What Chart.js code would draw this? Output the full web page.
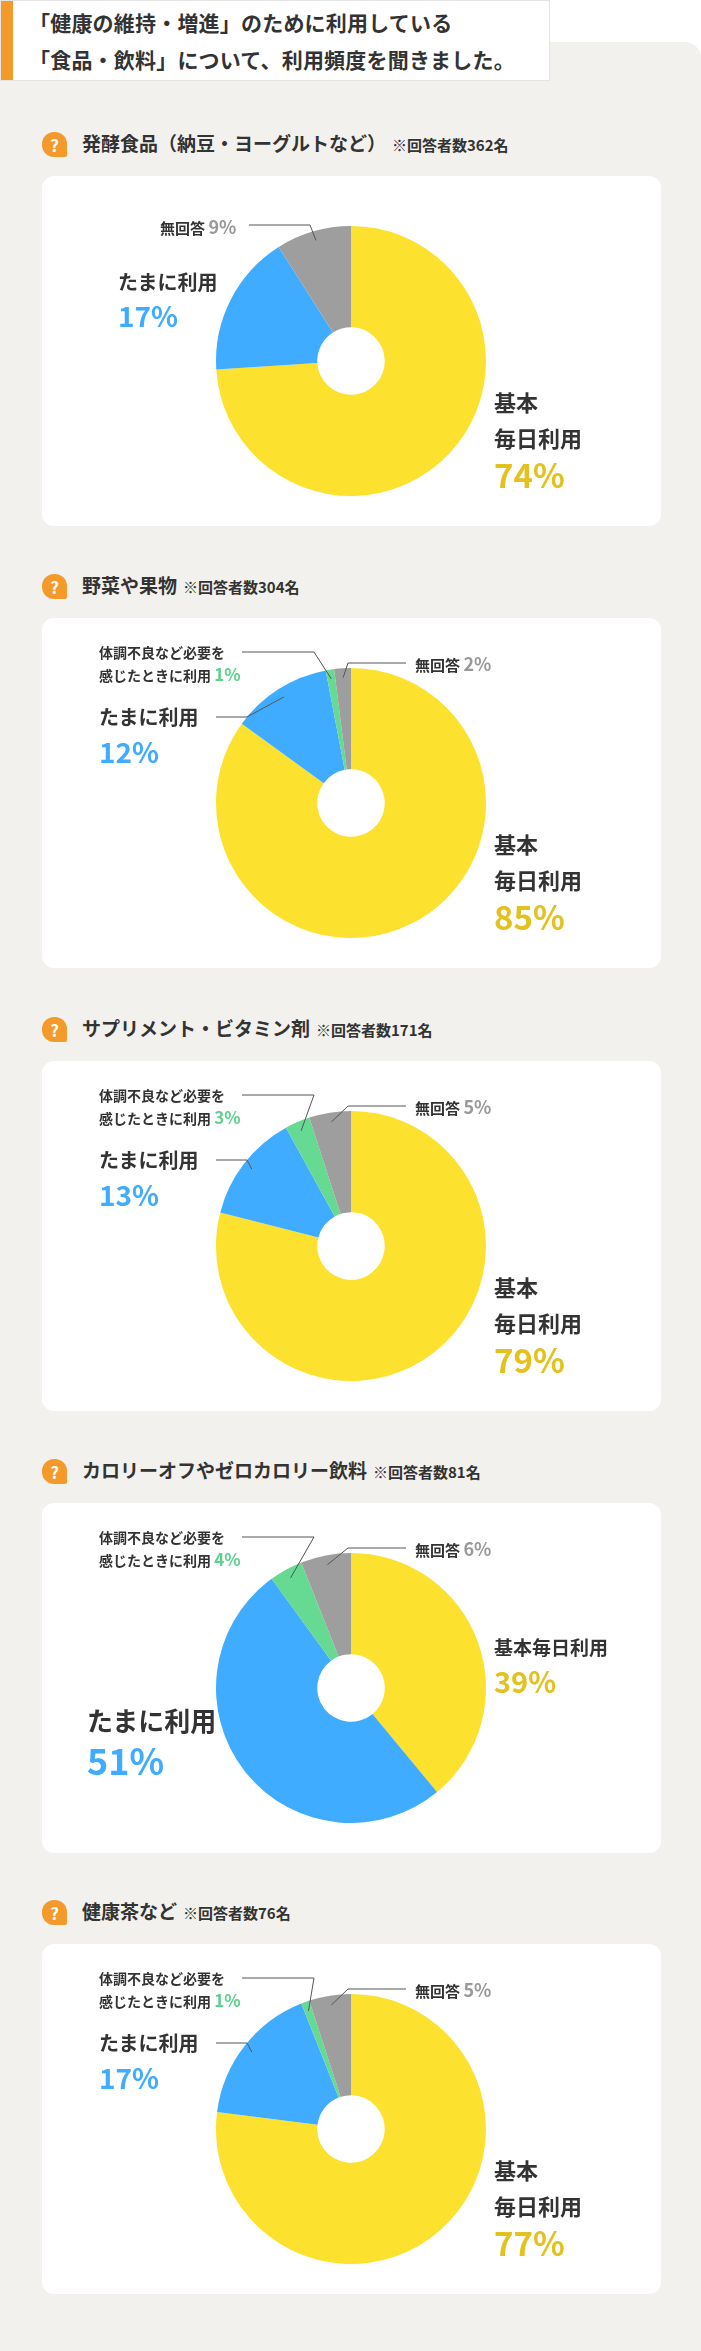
<!DOCTYPE html>
<html><head><meta charset="utf-8">
<script src="https://cdn.jsdelivr.net/npm/chart.js@4"></script>
<style>
body{margin:0;width:701px;height:2351px;background:#fff;font-family:"Noto Sans CJK JP","Noto Sans",sans-serif;color:#333;position:relative;overflow:hidden}
#panel{position:absolute;left:0;top:42px;width:701px;height:2309px;background:#F2F1EE;border-top-right-radius:16px}
#head{position:absolute;left:0;top:0;width:550px;height:81px;background:#fff;border:1px solid #e4e4e4;box-sizing:border-box}
#head .bar{position:absolute;left:0;top:0;width:12px;height:100%;background:#F39A2B}
#head .t{position:absolute;left:28px;top:3px;font-size:21px;font-weight:700;line-height:37px;letter-spacing:0.2px}
.sec{position:absolute;left:0;width:701px}
.icon{position:absolute;left:42px;top:0;width:25px;height:25px;background:#F39A2B;border-radius:12px 12px 2px 12px;color:#fff;font-weight:700;font-size:17px;text-align:center;line-height:25px}
.title{position:absolute;left:82px;top:-3px;font-size:19px;font-weight:700;white-space:nowrap}
.title small{font-size:15px;margin-left:6px}
.card{position:absolute;left:42px;top:44px;width:619px;height:350px;background:#fff;border-radius:12px}
.card canvas{position:absolute;left:0;top:0}
.lb{position:absolute;font-weight:700;white-space:nowrap;line-height:1}
</style></head><body>
<div id="panel"></div>
<div id="head"><div class="bar"></div><div class="t">「健康の維持・増進」のために利用している<br>「食品・飲料」について、利用頻度を聞きました。</div></div>
<script>
const categories=["基本毎日利用","たまに利用","体調不良など必要を感じたときに利用","無回答"];
const titles=["発酵食品（納豆・ヨーグルトなど）","野菜や果物","サプリメント・ビタミン剤","カロリーオフやゼロカロリー飲料","健康茶など"];
const respondents=[362,304,171,81,76];
const values1=[74,17,0,9];
const values2=[85,12,1,2];
const values3=[79,13,3,5];
const values4=[39,51,4,6];
const values5=[77,17,1,5];
const allValues=[values1,values2,values3,values4,values5];
const colors=["#FDE12F","#40ACFF","#66D993","#9E9E9E"];
const textColors=["#E3C11F","#40ACFF","#5CD18C","#999999"];

const secTops=[132,574,1017,1459,1900];
const sty=(x,y,s)=>`left:${x}px;top:${y}px;font-size:${s}px;`;

allValues.forEach((vals,ci)=>{
  const sec=document.createElement('div');sec.className='sec';sec.style.top=secTops[ci]+'px';
  sec.innerHTML=`<div class="icon">?</div><div class="title">${titles[ci]}<small>※回答者数${respondents[ci]}名</small></div>`;
  const card=document.createElement('div');card.className='card';sec.appendChild(card);
  const cv=document.createElement('canvas');cv.width=619;cv.height=350;card.appendChild(cv);
  let html='';const leaders=[];
  const pct=i=>`<span style="color:${textColors[i]}">${vals[i]}%</span>`;
  if(ci===0){
    html+=`<div class="lb" style="${sty(118,41,15)}">無回答 <span style="color:#999;font-size:18px">${vals[3]}%</span></div>`;
    html+=`<div class="lb" style="${sty(76,96,20)}">たまに利用</div><div class="lb" style="${sty(76,125,28)}">${pct(1)}</div>`;
    leaders.push({i:3,x:207,y:49,ex:268});
  } else {
    html+=`<div class="lb" style="${sty(57,24,14)};line-height:21px">体調不良など必要を<br>感じたときに利用 <span style="color:${textColors[2]};font-size:17px">${vals[2]}%</span></div>`;
    html+=`<div class="lb" style="${sty(373,36,15)}">無回答 <span style="color:#999;font-size:18px">${vals[3]}%</span></div>`;
    leaders.push({i:2,x:200,y:34,ex:272});
    leaders.push({i:3,x:364,y:45,ex:306});
    if(ci!==3){
      html+=`<div class="lb" style="${sty(57,89,20)}">たまに利用</div><div class="lb" style="${sty(57,119,28)}">${pct(1)}</div>`;
      leaders.push({i:1,x:174,y:99,ex:205});
    }
  }
  if(ci===3){
    html+=`<div class="lb" style="${sty(452,134,19)}">基本毎日利用</div><div class="lb" style="${sty(452,163,29)}">${pct(0)}</div>`;
    html+=`<div class="lb" style="${sty(45,204,26)}">たまに利用</div><div class="lb" style="${sty(45,238,36)}">${pct(1)}</div>`;
  } else {
    html+=`<div class="lb" style="${sty(452,214,22)}">基本</div><div class="lb" style="${sty(452,250,22)}">毎日利用</div><div class="lb" style="${sty(452,282,33)}">${pct(0)}</div>`;
  }
  card.insertAdjacentHTML('beforeend',html);
  document.body.appendChild(sec);
  const leaderPlugin={id:'leaders',afterDatasetsDraw(ch){
    const ctx=ch.ctx;const meta=ch.getDatasetMeta(0);
    ctx.save();ctx.strokeStyle='#555';ctx.lineWidth=1;
    leaders.forEach(l=>{
      const a=meta.data[l.i];const p=a.getProps(['x','y','startAngle','endAngle','outerRadius']);
      const m=(p.startAngle+p.endAngle)/2;const r=p.outerRadius*0.93;
      ctx.beginPath();ctx.moveTo(l.x,l.y);ctx.lineTo(l.ex,l.y);
      ctx.lineTo(p.x+Math.cos(m)*r,p.y+Math.sin(m)*r);ctx.stroke();
    });ctx.restore();}};
  new Chart(cv,{type:'doughnut',data:{labels:categories,datasets:[{data:vals,backgroundColor:colors,borderWidth:0}]},
    options:{responsive:false,maintainAspectRatio:false,animation:false,cutout:'25%',
      layout:{padding:{top:50,bottom:30,left:174,right:175}},
      plugins:{legend:{display:false},tooltip:{enabled:false}}},plugins:[leaderPlugin]});
});
</script>
</body></html>
